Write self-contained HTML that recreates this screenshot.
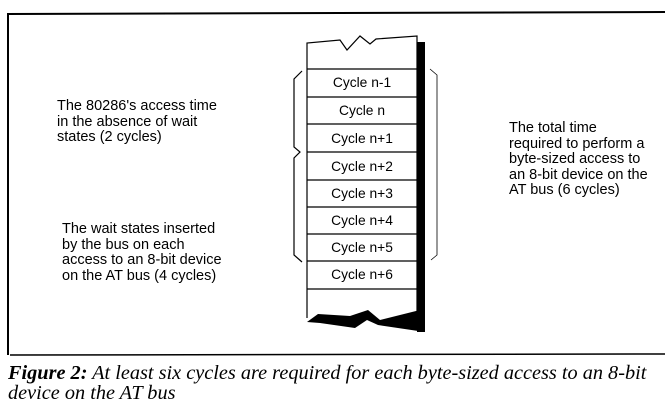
<!DOCTYPE html>
<html><head><style>
body{margin:0;background:#fff;width:665px;height:416px;overflow:hidden;position:relative;font-family:"Liberation Sans",sans-serif;}
.t{position:absolute;font-size:14.5px;line-height:15.5px;color:#000;white-space:nowrap;}
.c{position:absolute;left:307px;width:110px;text-align:center;font-size:13.8px;line-height:27px;}
.cap{position:absolute;left:8px;font-family:"Liberation Serif",serif;font-style:italic;font-size:20.3px;line-height:20px;white-space:nowrap;}
</style></head><body>
<svg width="665" height="416" style="position:absolute;left:0;top:0">
<path d="M8 355 L8 14 L665 12" fill="none" stroke="#000" stroke-width="2"/>
<line x1="10" y1="355" x2="665" y2="354" stroke="#000" stroke-width="1.5"/>
<path d="M307 318 L307 43 L340 40 L347 50 L360 36 L370 44 L376 39 L417 36 L417 318" fill="none" stroke="#000" stroke-width="1.2"/>
<rect x="417" y="42" width="8" height="290" fill="#000"/>
<path d="M307 322 L318 314 L350 316 L368 310 L380 320 L420 310 L425 332 L378 325 L367 320 L355 328 L320 323 Z" fill="#000"/>
<g stroke="#000" stroke-width="1.2">
<line x1="307" y1="69" x2="417" y2="69"/><line x1="307" y1="97" x2="417" y2="97"/>
<line x1="307" y1="124" x2="417" y2="124"/><line x1="307" y1="152" x2="417" y2="152"/>
<line x1="307" y1="180" x2="417" y2="180"/><line x1="307" y1="207" x2="417" y2="207"/>
<line x1="307" y1="234" x2="417" y2="234"/><line x1="307" y1="261" x2="417" y2="261"/>
<line x1="307" y1="289" x2="417" y2="289"/>
</g>
<path d="M302 71 L294 79 L294 147 L300 152 L294 158 L294 255 L302 262" fill="none" stroke="#000" stroke-width="1.2"/>
<path d="M430 69 L437 75 L437 255 L431 260" fill="none" stroke="#000" stroke-width="0.8"/>
</svg>
<div class="c" style="top:69px">Cycle n-1</div>
<div class="c" style="top:97px">Cycle n</div>
<div class="c" style="top:125px">Cycle n+1</div>
<div class="c" style="top:153px">Cycle n+2</div>
<div class="c" style="top:180px">Cycle n+3</div>
<div class="c" style="top:207px">Cycle n+4</div>
<div class="c" style="top:234px">Cycle n+5</div>
<div class="c" style="top:261px">Cycle n+6</div>
<div class="t" style="left:57px;top:99px">The 80286's access time<br>in the absence of wait<br>states (2 cycles)</div>
<div class="t" style="left:62px;top:222px">The wait states inserted<br>by the bus on each<br>access to an 8-bit device<br>on the AT bus (4 cycles)</div>
<div class="t" style="left:509px;top:121px">The total time<br>required to perform a<br>byte-sized access to<br>an 8-bit device on the<br>AT bus (6 cycles)</div>
<div class="cap" style="top:363px"><b>Figure 2:</b> At least six cycles are required for each byte-sized access to an 8-bit</div>
<div class="cap" style="top:383px">device on the AT bus</div>
</body></html>
